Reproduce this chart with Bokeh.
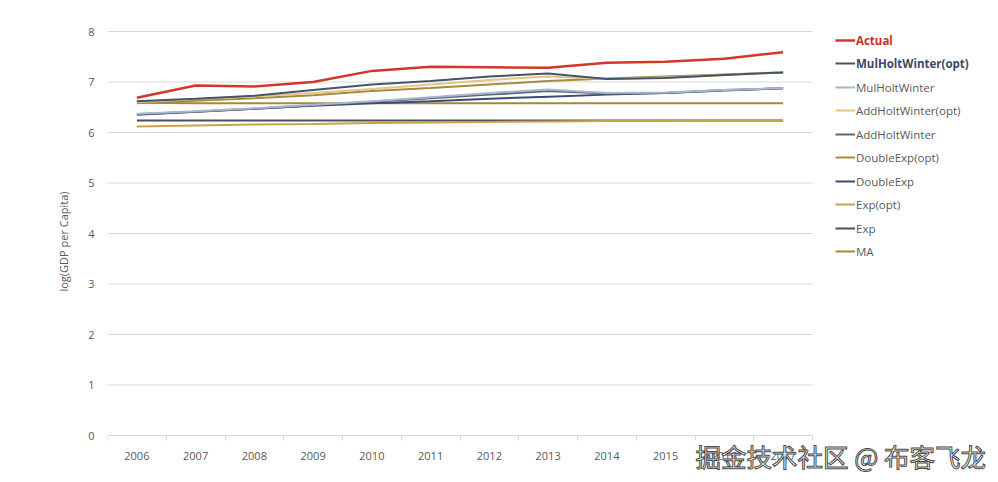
from bokeh.plotting import figure
from bokeh.models import Legend, LegendItem, FixedTicker, Label
from bokeh.embed import file_html
from bokeh.resources import INLINE

years = ["2006", "2007", "2008", "2009", "2010", "2011", "2012", "2013", "2014", "2015", "2016", "2017"]

actual = [6.69, 6.93, 6.91, 7.00, 7.22, 7.30, 7.29, 7.28, 7.38, 7.40, 7.46, 7.59]
mul_hw_opt = [6.62, 6.67, 6.73, 6.84, 6.95, 7.02, 7.11, 7.17, 7.06, 7.08, 7.14, 7.19]
mul_hw = [6.37, 6.42, 6.48, 6.55, 6.62, 6.70, 6.78, 6.85, 6.78, 6.79, 6.84, 6.88]
add_hw_opt = [6.60, 6.66, 6.72, 6.78, 6.86, 6.95, 7.04, 7.11, 7.06, 7.09, 7.14, 7.20]
add_hw = [6.36, 6.41, 6.47, 6.54, 6.61, 6.68, 6.75, 6.82, 6.77, 6.78, 6.84, 6.87]
double_exp_opt = [6.58, 6.63, 6.68, 6.74, 6.82, 6.88, 6.95, 7.02, 7.07, 7.11, 7.15, 7.19]
double_exp = [6.35, 6.41, 6.47, 6.53, 6.58, 6.62, 6.67, 6.71, 6.75, 6.78, 6.83, 6.88]
exp_opt = [6.12, 6.14, 6.16, 6.17, 6.19, 6.20, 6.21, 6.22, 6.23, 6.23, 6.24, 6.24]
exp_ = [6.24, 6.24, 6.24, 6.24, 6.24, 6.24, 6.24, 6.24, 6.24, 6.24, 6.24, 6.24]
ma = [6.59, 6.58, 6.58, 6.58, 6.58, 6.58, 6.58, 6.58, 6.58, 6.58, 6.58, 6.58]

series_names = ["Actual", "MulHoltWinter(opt)", "MulHoltWinter", "AddHoltWinter(opt)", "AddHoltWinter",
                "DoubleExp(opt)", "DoubleExp", "Exp(opt)", "Exp", "MA"]
series_values = [actual, mul_hw_opt, mul_hw, add_hw_opt, add_hw, double_exp_opt, double_exp, exp_opt, exp_, ma]
series_colors = ["#D2372C", "#44546A", "#A9B6CC", "#E6C582", "#5B6378",
                 "#A68A40", "#3C4A78", "#C9A447", "#4A4F5C", "#A8863A"]
label_colors = ["#C9311F", "#3A4A66"] + ["#595959"] * 8
label_styles = ["bold", "bold"] + ["normal"] * 8
y_ticks = [0, 1, 2, 3, 4, 5, 6, 7, 8]
watermark = "掘金技术社区 @ 布客飞龙"

FONT = "Open Sans"
xs = list(range(len(years)))

W, H = 998, 482
FL = 107            # frame left (px)
PX_X = 58.75        # px per category
PX_Y = 50.5         # px per y unit
Y0 = 435            # pixel row of y = 0
x_start = -0.5
x_end = x_start + (W - FL) / PX_X
y_start = -(H - Y0) / PX_Y
y_end = Y0 / PX_Y

p = figure(width=W, height=H, output_backend="svg", toolbar_location=None,
           x_range=(x_start, x_end), y_range=(y_start, y_end),
           min_border_left=FL, min_border_right=0, min_border_top=0, min_border_bottom=0)
p.outline_line_color = None
p.xgrid.grid_line_color = None
p.ygrid.grid_line_color = None

# horizontal gridlines only across the category span
p.segment(x0=[x_start] * len(y_ticks), x1=[len(years) - 0.5] * len(y_ticks),
          y0=y_ticks, y1=y_ticks, line_color="#D9D9D9", line_width=1)

p.yaxis.ticker = FixedTicker(ticks=y_ticks)
p.yaxis.axis_line_color = None
p.yaxis.major_tick_line_color = None
p.yaxis.major_tick_out = 0
p.yaxis.major_tick_in = 0
p.yaxis.minor_tick_line_color = None
p.yaxis.major_label_text_font = FONT
p.yaxis.major_label_text_font_size = "11px"
p.yaxis.major_label_text_color = "#595959"
p.yaxis.major_label_standoff = 13
p.yaxis.axis_label = "log(GDP per Capita)"
p.yaxis.axis_label_text_font = FONT
p.yaxis.axis_label_text_font_size = "11px"
p.yaxis.axis_label_text_font_style = "normal"
p.yaxis.axis_label_text_color = "#595959"
p.yaxis.axis_label_standoff = 14

p.xaxis.fixed_location = 0
p.xaxis.ticker = FixedTicker(ticks=xs, minor_ticks=[i - 0.5 for i in range(len(years) + 1)])
p.xaxis.major_label_overrides = {i: y for i, y in enumerate(years)}
p.xaxis.axis_line_color = None
p.xaxis.major_tick_line_color = None
p.xaxis.major_tick_out = 0
p.xaxis.major_tick_in = 0
p.xaxis.minor_tick_line_color = "#D9D9D9"
p.xaxis.minor_tick_in = 0
p.xaxis.minor_tick_out = 5
p.xaxis.major_label_text_font = FONT
p.xaxis.major_label_text_font_size = "11px"
p.xaxis.major_label_text_color = "#595959"
p.xaxis.major_label_standoff = 11

renderers = []
for name, vals, col in zip(series_names, series_values, series_colors):
    lw = 2.5 if name == "Actual" else 2
    r = p.line(xs, vals, line_color=col, line_width=lw)
    renderers.append(r)

# draw the Actual line on top
p.renderers = p.renderers[:1] + renderers[::-1]

for i, (name, r) in enumerate(zip(series_names, renderers)):
    yc = 40 + i * 23.44
    leg = Legend(items=[LegendItem(label=name, renderers=[r])],
                 location=(835 - FL, int(round(H - (yc + 10)))),
                 padding=0, margin=0, border_line_color=None, background_fill_alpha=0,
                 glyph_width=20, glyph_height=20, label_height=20, label_standoff=1,
                 label_text_font=FONT, label_text_font_size="11.5px",
                 label_text_color=label_colors[i], label_text_font_style=label_styles[i])
    p.add_layout(leg, "center")

wm = Label(x=695 - FL, y=H - 455, x_units="screen", y_units="screen",
           text=watermark, text_font="Noto Sans CJK SC", text_font_size="25.5px",
           text_color="#FAFAFA", text_outline_color="#4A4A4A", text_baseline="middle")
p.add_layout(wm)

open("out.html", "w").write(file_html(p, INLINE))
